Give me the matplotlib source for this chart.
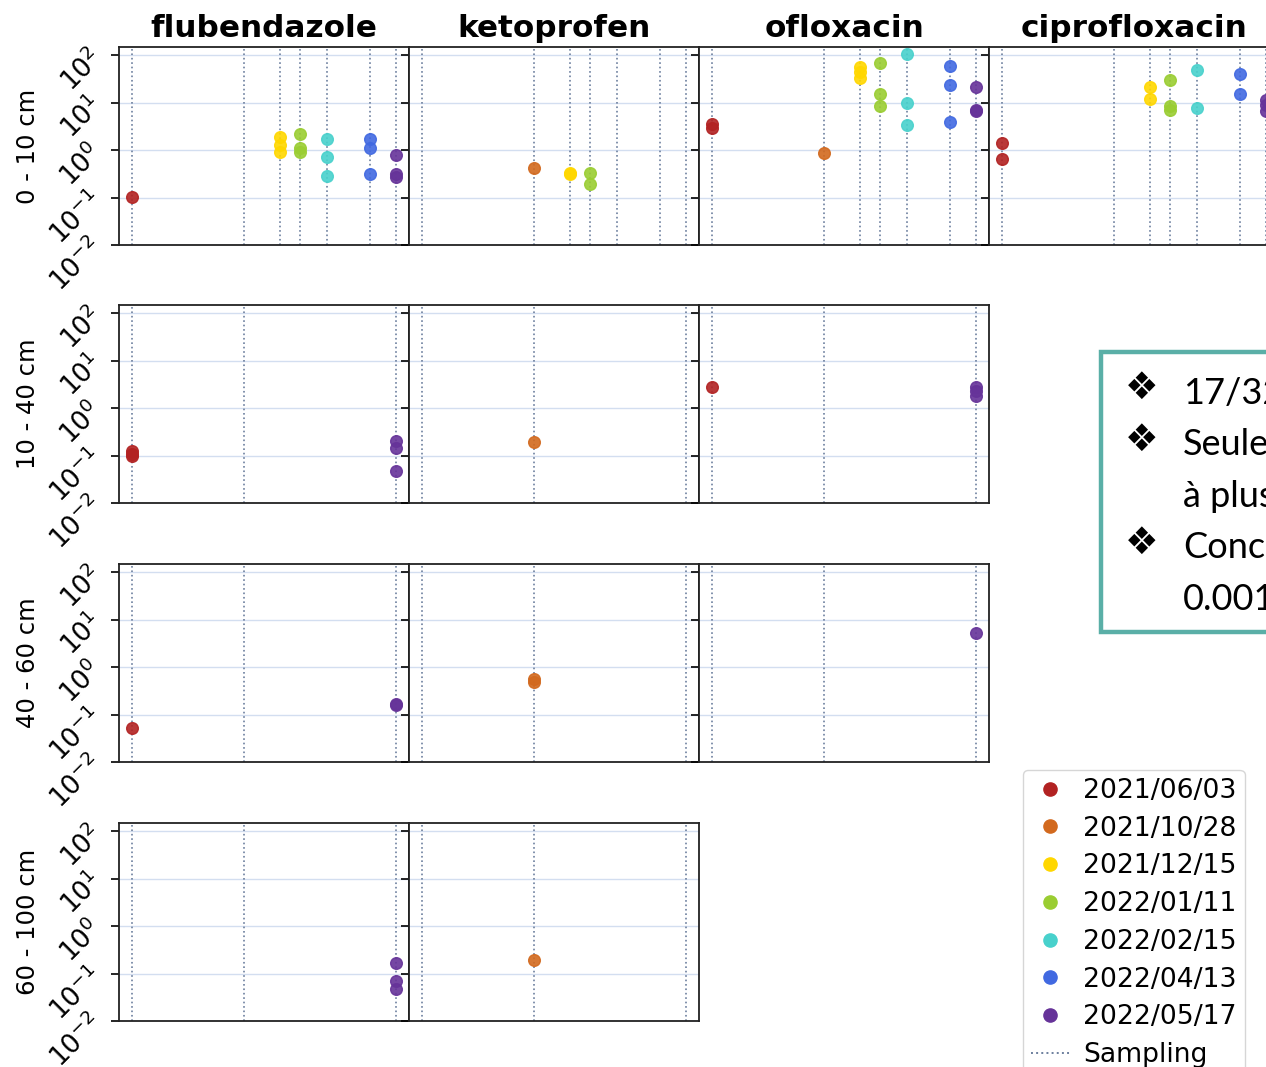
import numpy as np
import matplotlib
matplotlib.use("Agg")
import matplotlib.pyplot as plt
import matplotlib.dates as mdates
from matplotlib.lines import Line2D
from matplotlib.patches import Rectangle
from matplotlib.ticker import NullLocator

W, H = 1266, 1067

sampling_dates = ['2021-06-03', '2021-10-28', '2021-12-15', '2022-01-11',
                  '2022-02-15', '2022-04-13', '2022-05-17']
date_labels = ['2021/06/03', '2021/10/28', '2021/12/15', '2022/01/11',
               '2022/02/15', '2022/04/13', '2022/05/17']
date_colors = ['firebrick', 'chocolate', 'gold', 'yellowgreen',
               'mediumturquoise', 'royalblue', 'rebeccapurple']
# deeper layers were only cored during three campaigns
deep_sampling = ['2021-06-03', '2021-10-28', '2022-05-17']

compounds = ['flubendazole', 'ketoprofen', 'ofloxacin', 'ciprofloxacin']
layers = ['0 - 10 cm', '10 - 40 cm', '40 - 60 cm', '60 - 100 cm']

# concentrations found at each sampling date
flubendazole_0_10 = {
    '2021-06-03': [0.105],
    '2021-12-15': [1.9, 1.3, 0.92],
    '2022-01-11': [2.2, 1.1, 0.92],
    '2022-02-15': [1.75, 0.72, 0.29],
    '2022-04-13': [1.7, 1.1, 0.32],
    '2022-05-17': [0.8, 0.31, 0.27],
}
ketoprofen_0_10 = {
    '2021-10-28': [0.42],
    '2021-12-15': [0.33, 0.31],
    '2022-01-11': [0.33, 0.19],
}
ofloxacin_0_10 = {
    '2021-06-03': [3.5, 3.0],
    '2021-10-28': [0.89],
    '2021-12-15': [58, 45, 34],
    '2022-01-11': [70, 15.5, 8.5],
    '2022-02-15': [107, 10, 3.4],
    '2022-04-13': [61, 23.5, 3.9],
    '2022-05-17': [21, 7.2, 6.6],
}
ciprofloxacin_0_10 = {
    '2021-06-03': [1.45, 0.66],
    '2021-12-15': [21, 12.2],
    '2022-01-11': [30, 8.5, 7.2],
    '2022-02-15': [48, 7.6],
    '2022-04-13': [40, 15.5],
    '2022-05-17': [11.7, 8.8, 6.6],
}
flubendazole_10_40 = {
    '2021-06-03': [0.125, 0.11, 0.10],
    '2022-05-17': [0.2, 0.145, 0.047],
}
ketoprofen_10_40 = {'2021-10-28': [0.19]}
ofloxacin_10_40 = {'2021-06-03': [2.8], '2022-05-17': [2.8, 2.25, 1.8]}
flubendazole_40_60 = {'2021-06-03': [0.052], '2022-05-17': [0.17, 0.16]}
ketoprofen_40_60 = {'2021-10-28': [0.56, 0.49]}
ofloxacin_40_60 = {'2022-05-17': [5.2]}
flubendazole_60_100 = {'2022-05-17': [0.17, 0.069, 0.047]}
ketoprofen_60_100 = {'2021-10-28': [0.19]}

panels = {
    (0, 0): flubendazole_0_10, (0, 1): ketoprofen_0_10,
    (0, 2): ofloxacin_0_10, (0, 3): ciprofloxacin_0_10,
    (1, 0): flubendazole_10_40, (1, 1): ketoprofen_10_40,
    (1, 2): ofloxacin_10_40,
    (2, 0): flubendazole_40_60, (2, 1): ketoprofen_40_60,
    (2, 2): ofloxacin_40_60,
    (3, 0): flubendazole_60_100, (3, 1): ketoprofen_60_100,
}

box_lines = [('❖', '17/32'), ('❖', 'Seulement'), ('', 'à plus'),
             ('❖', 'Concentrations'), ('', '0.001')]

line_color = '#6c7f9e'
grid_color = '#d3def0'

fig = plt.figure(figsize=(W / 100, H / 100), dpi=100)

col_left = [119, 409, 699, 989]
row_top = [47, 305, 564, 823]
ax_w, ax_h = 290, 198

date_num = {d: mdates.date2num(np.datetime64(d)) for d in sampling_dates}
x0, x1 = date_num[sampling_dates[0]], date_num[sampling_dates[-1]]
pad = 0.05 * (x1 - x0)

for (r, c), data in panels.items():
    ax = fig.add_axes([col_left[c] / W, 1 - (row_top[r] + ax_h) / H,
                       ax_w / W, ax_h / H])
    ax.set_yscale('log')
    ax.set_ylim(1e-2, 150)
    ax.set_xlim(x0 - pad, x1 + pad)
    ax.set_yticks([1e-2, 1e-1, 1, 10, 100])
    ax.yaxis.set_minor_locator(NullLocator())
    ax.set_xticks([])
    ax.grid(axis='y', color=grid_color, lw=1)
    ax.set_axisbelow(True)
    for sp in ax.spines.values():
        sp.set_linewidth(1.3)
        sp.set_color('#222222')

    dates_here = sampling_dates if r == 0 else deep_sampling
    for d in dates_here:
        ax.axvline(date_num[d], color=line_color, ls=':', lw=1.2, zorder=1)

    for d, col in zip(sampling_dates, date_colors):
        vals = data.get(d, [])
        if vals:
            ax.plot([date_num[d]] * len(vals), vals, 'o', color=col,
                    ms=8.4, alpha=0.9, zorder=3)

    ax.tick_params(axis='y', length=6, width=1.2, labelsize=19,
                   labelrotation=45, pad=2)
    if c == 0:
        ax.set_ylabel(layers[r], fontsize=17.5)
        ax.yaxis.set_label_coords(-0.272, 0.5)
    else:
        ax.tick_params(axis='y', labelleft=False)
    if r == 0:
        ax.set_title(compounds[c], fontsize=22.4, fontweight='bold', pad=7)

# legend for the campaigns
handles = [Line2D([], [], ls='none', marker='o', color=col, ms=9.5)
           for col in date_colors]
handles.append(Line2D([], [], ls=':', color=line_color, lw=1.4))
fig.legend(handles, date_labels + ['Sampling'], loc='upper left',
           bbox_to_anchor=(1023 / W, 1 - 770 / H), borderaxespad=0,
           fontsize=19.2, handlelength=1.45, handletextpad=0.5,
           labelspacing=0.44, borderpad=0.3)

# summary box
fig.add_artist(Rectangle((1101 / W, 1 - 632 / H), 600 / W, 280 / H,
                         transform=fig.transFigure, facecolor='white',
                         edgecolor='#5aafa7', lw=3.2, zorder=5))
for i, (bullet, txt) in enumerate(box_lines):
    base = 404 + 51.5 * i
    if bullet:
        fig.text(1142 / W, 1 - (base - 15) / H, bullet, ha='center',
                 va='center', fontsize=27, family='DejaVu Sans', zorder=6)
    fig.text(1183 / W, 1 - base / H, txt, ha='left', va='baseline',
             fontsize=26, family=['Lato', 'DejaVu Sans'], zorder=6)

fig.savefig('out.png', dpi=100)
